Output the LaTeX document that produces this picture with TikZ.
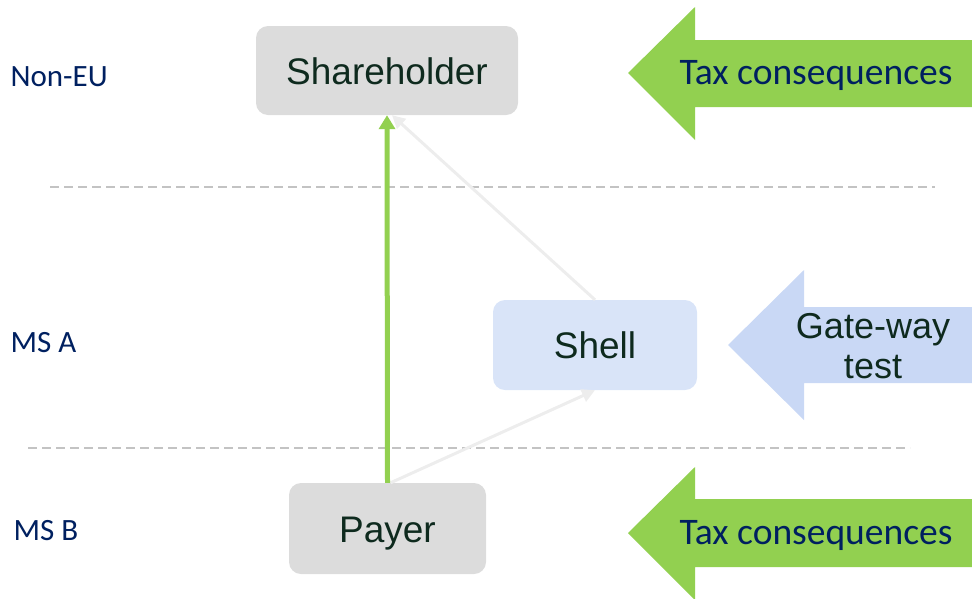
\documentclass[tikz,border=0pt]{standalone}
\usepackage{fontspec}
\setmainfont{Liberation Sans}
\newfontfamily\calib{Carlito}
\usetikzlibrary{arrows.meta}

\definecolor{boxgray}{HTML}{DCDCDC}
\definecolor{shellblue}{HTML}{D9E4F8}
\definecolor{gateblue}{HTML}{C9D8F5}
\definecolor{taxgreen}{HTML}{92D050}
\definecolor{linkgray}{HTML}{EDEDED}
\definecolor{dashgray}{HTML}{C3C3C3}
\definecolor{navy}{HTML}{002060}
\definecolor{ink}{HTML}{0E2A1E}

\tikzset{
  entity/.style={rounded corners=12pt,text=ink,font=\fontsize{37}{40}\selectfont,inner sep=0pt,text height=27pt,text depth=0pt},
  gatetext/.style={align=center,text=ink,font=\fontsize{36}{40}\selectfont,inner sep=0pt},
  country/.style={anchor=west,text=navy,font=\calib\fontsize{31}{34}\selectfont},
  border/.style={dashgray,line width=1.5pt,dash pattern=on 9pt off 5pt},
  taxtext/.style={text=navy,font=\calib\fontsize{37.5}{40}\selectfont},
}

\begin{document}
\begin{tikzpicture}[x=1pt,y=-1pt]
\useasboundingbox (0,0) rectangle (972,598);

\draw[border] (50,187) -- (935,187);
\draw[border] (28,448) -- (910,448);

\node[country] (NonEU) at (7,77) {Non-EU};
\node[country] (MSA) at (7,343) {MS A};
\node[country] (MSB) at (10,531) {MS B};

\node[entity,fill=boxgray,minimum width=262pt,minimum height=89pt] (Holder) at (387,70.5) {Shareholder};
\node[entity,fill=shellblue,minimum width=204pt,minimum height=90pt] (Shell) at (595,345) {Shell};
\node[entity,fill=boxgray,minimum width=197pt,minimum height=91pt] (Payer) at (387.5,528.5) {Payer};

\fill[taxgreen] (628,73) -- (695,7) -- (695,40) -- (972,40) -- (972,107) -- (695,107) -- (695,140) -- cycle;
\node[taxtext] (TaxTop) at (816,75) {Tax consequences};

\fill[gateblue] (728,345) -- (804,270) -- (804,307) -- (972,307) -- (972,383) -- (804,383) -- (804,420) -- cycle;
\node[gatetext] (Gate) at (873,346) {Gate-way\\test};

\fill[taxgreen] (628,533) -- (695,467) -- (695,499) -- (972,499) -- (972,567) -- (695,567) -- (695,600) -- cycle;
\node[taxtext] (TaxBot) at (816,535) {Tax consequences};

\draw[linkgray,line width=3pt,-{Triangle[width=13pt,length=13pt]}] ([xshift=3pt]Payer.north) -- (Shell.south);
\draw[linkgray,line width=3pt,-{Triangle[width=13pt,length=13pt]}] (Shell.north) -- ([xshift=5pt]Holder.south);
\draw[taxgreen,line width=5pt,-{Triangle[width=16pt,length=14pt]}] (Payer.north) -- (Holder.south);
\end{tikzpicture}
\end{document}
